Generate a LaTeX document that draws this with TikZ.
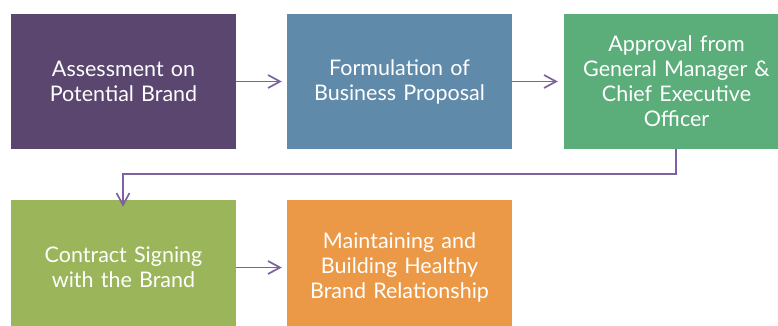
\documentclass[tikz,border=0pt]{standalone}
\usepackage{fontspec}
\setmainfont{Lato}
\usetikzlibrary{arrows.meta}
\definecolor{cA}{HTML}{5B4670}
\definecolor{cB}{HTML}{5F8AAA}
\definecolor{cC}{HTML}{5BAD7A}
\definecolor{cD}{HTML}{9BB55A}
\definecolor{cE}{HTML}{EB9946}
\definecolor{cL}{HTML}{7E62A0}
\tikzset{
  stepbox/.style={minimum width=225pt, minimum height=135pt, inner sep=0pt,
    text width=215pt, align=center, text=white,
    font=\fontsize{21.5}{25}\selectfont},
  conn/.style={draw=cL, line width=1.7pt, -{Straight Barb[length=12pt,width=13pt,line width=1.7pt]}}
}
\begin{document}
\begin{tikzpicture}[x=1pt,y=-1pt]
\useasboundingbox (0,0) rectangle (778,326);
\clip (0,0) rectangle (778,326);
\fill[white] (0,0) rectangle (778,326);
\node[stepbox, fill=cA] (a) at (123.5,81.5) {Assessment on\\Potential Brand};
\node[stepbox, fill=cB] (b) at (399.5,81.5) {Formulation of\\Business Proposal};
\node[stepbox, fill=cC] (c) at (676.5,81.5) {Approval from\\General Manager \&\\Chief Executive\\Officer};
\node[stepbox, fill=cD] (d) at (123.5,267.5) {Contract Signing\\with the Brand};
\node[stepbox, fill=cE] (e) at (399.5,267.5) {Maintaining and\\Building Healthy\\Brand Relationship};
\coordinate (k1) at (676,174);
\coordinate (k2) at (123,174);
\draw[conn] (a.east) -- ([xshift=-5pt]b.west);
\draw[conn] (b.east) -- ([xshift=-6pt]c.west);
\draw[conn] (c.south -| k1) -- (k1) -- (k2) -- ([yshift=-7pt]d.north -| k2);
\draw[conn] (d.east) -- ([xshift=-5pt]e.west);
\end{tikzpicture}
\end{document}
